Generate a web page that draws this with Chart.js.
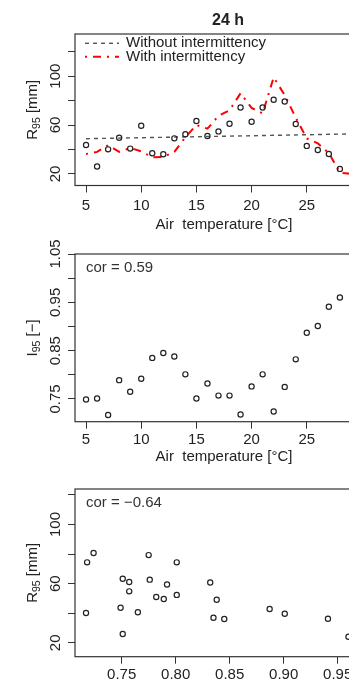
<!DOCTYPE html>
<html><head><meta charset="utf-8">
<script src="https://cdn.jsdelivr.net/npm/chart.js@4"></script>
<style>
html,body{margin:0;padding:0;background:#fff;overflow:hidden;}
#wrap{position:relative;width:349px;height:681px;overflow:hidden;background:#fff;}
canvas{position:absolute;left:0;top:0;}
</style></head><body>
<div id="wrap">
<canvas id="c1" width="400" height="681"></canvas>
<canvas id="c2" width="400" height="681"></canvas>
<canvas id="c3" width="400" height="681"></canvas>
</div>
<script>
// ---- data ----
const tempC = [5,6,7,8,9,10,11,12,13,14,15,16,17,18,19,20,21,22,23,24,25,26,27,28,29];
const r95Observed = [43.7,26,40.1,49.6,40.7,59.4,36.9,36.1,49.1,52.4,63.3,51,54.8,61.1,74.4,62.7,74.4,80.7,79.3,60.8,42.9,39.6,36.3,24.1,null];
const r95WithIntermittency = [36.3,38,43.5,38,41.2,38.5,33.6,33.8,38,50,60,57,67.5,72,86,74,69.5,99,84.5,66,49,45,37,21,20];
const noIntTemp = [5,29];
const r95WithoutIntermittency = [48.8,52.7];
const i95Observed = [0.749,0.751,0.717,0.789,0.765,0.792,0.835,0.845,0.838,0.801,0.751,0.782,0.757,0.757,0.718,0.776,0.801,0.724,0.775,0.832,0.887,0.901,0.941,0.960,null];
const tempTicks = [5,10,15,20,25,30];
const r95Ticks = [20,40,60,80,100,120];
const r95TickLabels = [20,60,100];
const i95Ticks = [0.75,0.80,0.85,0.90,0.95,1.00,1.05];
const i95TickLabels = ["0.75","0.85","0.95","1.05"];
const i95AxisTicks = [0.75,0.80,0.85,0.90,0.95,1.00];
const corTempI95 = "cor = 0.59";
const corI95R95 = "cor = \u22120.64";

const FONT = "'Liberation Sans', Arial, Helvetica, sans-serif";
const TXT = '#222';

function pairs(xs, ys){ const o=[]; for(let i=0;i<xs.length;i++){ if(ys[i]!=null && xs[i]!=null) o.push({x:xs[i],y:ys[i]}); } return o; }

function drawRich(ctx, parts, cx, cy, rotate){
  ctx.save();
  ctx.translate(cx, cy);
  if (rotate) ctx.rotate(-Math.PI/2);
  let total = 0;
  parts.forEach(p=>{ ctx.font = p.size+'px '+FONT; p.w = ctx.measureText(p.t).width; total += p.w; });
  let x = -total/2;
  ctx.fillStyle = TXT; ctx.textBaseline = 'middle'; ctx.textAlign = 'left';
  parts.forEach(p=>{ ctx.font = p.size+'px '+FONT; ctx.fillText(p.t, x, p.dy||0); x += p.w; });
  ctx.restore();
}

function decor(cfg){
  return {
    id: 'decor',
    afterDraw(chart){
      const ctx = chart.ctx, a = chart.chartArea;
      const xs = chart.scales.x, ys = chart.scales.y;
      ctx.save();
      // box
      ctx.strokeStyle = '#333'; ctx.lineWidth = 1.2;
      ctx.strokeRect(a.left, a.top, a.right - a.left, a.bottom - a.top);
      // y tick labels (rotated)
      ctx.fillStyle = TXT; ctx.font = '15px '+FONT; ctx.textAlign='center'; ctx.textBaseline='middle';
      cfg.yLabels.forEach(v=>{
        const y = ys.getPixelForValue(parseFloat(v));
        ctx.save(); ctx.translate(55.5, y); ctx.rotate(-Math.PI/2); ctx.fillText(String(v), 0, 0); ctx.restore();
      });
      // x tick labels
      cfg.xLabels.forEach(v=>{
        const x = xs.getPixelForValue(parseFloat(v));
        ctx.fillText(String(v), x, a.bottom + cfg.xLabOff);
      });
      // x title
      if (cfg.xTitle) { ctx.fillText(cfg.xTitle, (a.left + a.right)/2, a.bottom + cfg.xTitleOff); }
      // y title
      drawRich(ctx, cfg.yTitle, 33, (a.top + a.bottom)/2, true);
      // cor text
      if (cfg.cor) { ctx.fillStyle = '#333'; ctx.textAlign = 'left'; ctx.fillText(cfg.cor, 86, a.top + 13.5); }
      // main title
      if (cfg.title) { ctx.fillStyle = TXT; ctx.font = 'bold 16px '+FONT; ctx.textAlign='center'; ctx.fillText(cfg.title, 228, 21); }
      // legend
      if (cfg.legend) {
        ctx.font = '15px '+FONT; ctx.textAlign = 'left'; ctx.fillStyle = TXT;
        cfg.legend.forEach((L, i)=>{
          const y = 43.3 + i*13.4;
          ctx.save(); ctx.strokeStyle = L.color; ctx.lineWidth = L.width; ctx.setLineDash(L.dash);
          ctx.beginPath(); ctx.moveTo(85, y); ctx.lineTo(119, y); ctx.stroke(); ctx.restore();
          ctx.fillText(L.label, 126, y);
        });
      }
      ctx.restore();
    }
  };
}

function axisCfg(min, max, ticks, fitProp, fitVal){
  return {
    type: 'linear', min: min, max: max,
    afterBuildTicks: s => { s.ticks = ticks.map(v=>({value:v})); },
    afterFit: s => { s[fitProp] = fitVal; },
    ticks: { display: false },
    grid: { drawOnChartArea: false, drawTicks: true, tickLength: 7, color: '#333', lineWidth: 1 },
    border: { display: false }
  };
}

const pointStyle = { showLine: false, pointRadius: 2.6, pointBorderWidth: 1.2, pointBorderColor: '#222', pointBackgroundColor: 'rgba(0,0,0,0)', pointHoverRadius: 2.6 };
const baseOpts = (pad) => ({
  responsive: false, animation: false, devicePixelRatio: 1,
  layout: { padding: pad },
  plugins: { legend: { display: false }, tooltip: { enabled: false } },
  events: []
});

const r95Title = [{t:'R', size:15},{t:'95', size:10.5, dy:4},{t:' [mm]', size:15}];
const i95Title = [{t:'I', size:15},{t:'95', size:10.5, dy:4},{t:' [\u2212]', size:15}];
const tempTitle = 'Air  temperature [\u00B0C]';

// ---- Panel 1 ----
new Chart(document.getElementById('c1'), {
  type: 'scatter',
  data: { datasets: [
    { label: 'Without intermittency', data: pairs(noIntTemp, r95WithoutIntermittency), showLine: true, borderColor: '#555', borderWidth: 1.4, borderDash: [4,4], pointRadius: 0, order: 3 },
    { label: 'With intermittency', data: pairs(tempC, r95WithIntermittency), showLine: true, borderColor: '#ff0000', borderWidth: 2, borderDash: [2,6,8,6], pointRadius: 0, tension: 0, order: 2 },
    Object.assign({ label: 'Observed', data: pairs(tempC, r95Observed), order: 1 }, pointStyle)
  ]},
  options: Object.assign(baseOpts({top:34, bottom:485.5, left:0, right:27}), {
    scales: { x: axisCfg(4, 31, tempTicks, 'height', 10), y: axisCfg(10.5, 134.5, r95Ticks, 'width', 75) }
  }),
  plugins: [decor({ yLabels: r95TickLabels, xLabels: tempTicks, xLabOff: 20, xTitle: tempTitle, xTitleOff: 39, yTitle: r95Title, title: '24 h',
    legend: [ {label:'Without intermittency', color:'#555', width:1.4, dash:[4,4]}, {label:'With intermittency', color:'#ff0000', width:2, dash:[2,6,8,6]} ] })]
});

// ---- Panel 2 ----
new Chart(document.getElementById('c2'), {
  type: 'scatter',
  data: { datasets: [ Object.assign({ label: 'I95', data: pairs(tempC, i95Observed) }, pointStyle) ] },
  options: Object.assign(baseOpts({top:254, bottom:249.3, left:0, right:27}), {
    scales: { x: axisCfg(4, 31, tempTicks, 'height', 10), y: axisCfg(0.703, 1.05, i95Ticks, 'width', 75) }
  }),
  plugins: [decor({ yLabels: i95TickLabels, xLabels: tempTicks, xLabOff: 18.5, xTitle: tempTitle, xTitleOff: 35.5, yTitle: i95Title, cor: corTempI95 })]
});

// ---- Panel 3 ----
new Chart(document.getElementById('c3'), {
  type: 'scatter',
  data: { datasets: [ Object.assign({ label: 'R95 vs I95', data: pairs(i95Observed, r95Observed) }, pointStyle) ] },
  options: Object.assign(baseOpts({top:489, bottom:14.3, left:0, right:27}), {
    scales: { x: axisCfg(0.7068, 0.9827, i95AxisTicks, 'height', 10), y: axisCfg(10.6, 124, r95Ticks, 'width', 75) }
  }),
  plugins: [decor({ yLabels: r95TickLabels, xLabels: ["0.75","0.80","0.85","0.90","0.95","1.00"], xLabOff: 18.5, yTitle: r95Title, cor: corI95R95 })]
});
</script>
</body></html>
